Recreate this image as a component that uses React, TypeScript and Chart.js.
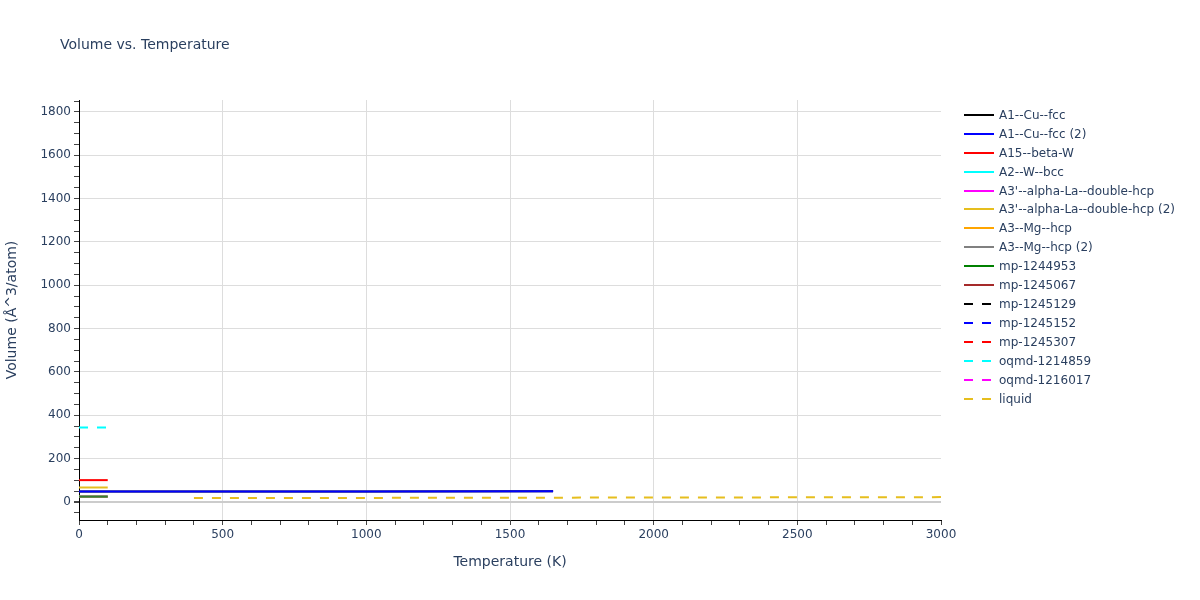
import { useEffect, useRef } from 'react';
import { Chart, registerables } from 'chart.js';

Chart.register(...registerables);

// series names, in legend order
const seriesNames = [
    'A1--Cu--fcc',
    'A1--Cu--fcc (2)',
    'A15--beta-W',
    'A2--W--bcc',
    "A3'--alpha-La--double-hcp",
    "A3'--alpha-La--double-hcp (2)",
    'A3--Mg--hcp',
    'A3--Mg--hcp (2)',
    'mp-1244953',
    'mp-1245067',
    'mp-1245129',
    'mp-1245152',
    'mp-1245307',
    'oqmd-1214859',
    'oqmd-1216017',
    'liquid',
];

const seriesColors = [
    '#000000', '#0000ff', '#ff0000', '#00ffff', '#ff00ff', '#e6be1e', '#ffa500', '#808080',
    '#008000', '#a52a2a', '#000000', '#0000ff', '#ff0000', '#00ffff', '#ff00ff', '#e6be1e',
];

const seriesDashed = [
    false, false, false, false, false, false, false, false,
    false, false, true, true, true, true, true, true,
];

// temperatures (K) and volumes (Å^3/atom)
const cuFccT = [0, 500, 1000, 1650];
const cuFccV = [48, 48.5, 49, 49.5];
const cuFcc2T = [0, 500, 1000, 1650];
const cuFcc2V = [48, 48.5, 49, 49.5];
const betaWT = [0, 100];
const betaWV = [101, 101];
const wBccT = [0, 100];
const wBccV = [25, 25];
const laHcpT = [0, 100];
const laHcpV = [25, 25];
const laHcp2T = [0, 100];
const laHcp2V = [67, 67];
const mgHcpT = [0, 100];
const mgHcpV = [25, 25];
const mgHcp2T = [0, 100];
const mgHcp2V = [25, 25];
const mp1244953T = [0, 100];
const mp1244953V = [25, 25];
const mp1245067T = [0];
const mp1245067V = [1772];
const mp1245129T = [0];
const mp1245129V = [0];
const mp1245152T = [0];
const mp1245152V = [48];
const mp1245307T = [0];
const mp1245307V = [101];
const oqmd1214859T = [0, 100];
const oqmd1214859V = [344, 344];
const oqmd1216017T = [0];
const oqmd1216017V = [25];
const liquidT = [400, 800, 1200, 1600, 2000, 2400, 2800, 3000];
const liquidV = [18, 18.6, 19.3, 20, 20.7, 21.4, 22.2, 22.6];

const seriesT = [cuFccT, cuFcc2T, betaWT, wBccT, laHcpT, laHcp2T, mgHcpT, mgHcp2T,
    mp1244953T, mp1245067T, mp1245129T, mp1245152T, mp1245307T, oqmd1214859T, oqmd1216017T, liquidT];
const seriesV = [cuFccV, cuFcc2V, betaWV, wBccV, laHcpV, laHcp2V, mgHcpV, mgHcp2V,
    mp1244953V, mp1245067V, mp1245129V, mp1245152V, mp1245307V, oqmd1214859V, oqmd1216017V, liquidV];

const textColor = '#2a3f5f';
const font = "'DejaVu Sans', Verdana, sans-serif";

export default function App() {
    const canvasRef = useRef<HTMLCanvasElement>(null);

    useEffect(() => {
        const ctx = canvasRef.current?.getContext('2d');
        if (!ctx) return;

        const datasets = seriesNames.map((name, i) => ({
            label: name,
            data: seriesT[i].map((t, j) => ({ x: t, y: seriesV[i][j] })),
            borderColor: i === 8 ? 'rgba(0,128,0,0.6)' : seriesColors[i],
            backgroundColor: seriesColors[i],
            borderWidth: 2,
            borderDash: seriesDashed[i] ? [9, 9] : [],
            showLine: true,
            pointRadius: 0,
            pointHoverRadius: 0,
            fill: false,
            order: -i,
        }));

        const chart = new Chart(ctx, {
            type: 'scatter',
            data: { datasets },
            options: {
                animation: false,
                responsive: false,
                maintainAspectRatio: false,
                layout: { padding: { left: 0, top: 100, right: 259, bottom: 25 } },
                plugins: { legend: { display: false }, tooltip: { enabled: false } },
                scales: {
                    x: {
                        type: 'linear',
                        min: 0,
                        max: 3000,
                        afterFit: (scale: any) => { scale.height = 55; },
                        border: { color: '#000000', width: 1 },
                        grid: {
                            color: (c: any) => {
                                const v = c.tick ? c.tick.value : 1;
                                return v % 500 === 0 && v < 3000 ? '#dddddd' : 'rgba(0,0,0,0)';
                            },
                            lineWidth: 1,
                            tickColor: '#444444',
                            tickLength: 5,
                        },
                        ticks: {
                            stepSize: 100,
                            autoSkip: false,
                            maxRotation: 0,
                            padding: 3,
                            color: textColor,
                            font: { family: font, size: 12 },
                            callback: (v: any) => (v % 500 === 0 ? String(v) : ''),
                        },
                        title: {
                            display: true,
                            text: 'Temperature (K)',
                            color: textColor,
                            font: { family: font, size: 14 },
                        },
                    },
                    y: {
                        type: 'linear',
                        min: -83,
                        max: 1855,
                        afterFit: (scale: any) => { scale.width = 79; },
                        border: { color: '#000000', width: 1 },
                        grid: {
                            color: (c: any) => {
                                const v = c.tick ? c.tick.value : 1;
                                if (v === 0) return '#cccccc';
                                return v % 200 === 0 ? '#dddddd' : 'rgba(0,0,0,0)';
                            },
                            lineWidth: (c: any) => (c.tick && c.tick.value === 0 ? 2 : 1),
                            tickColor: '#444444',
                            tickLength: 5,
                        },
                        ticks: {
                            stepSize: 50,
                            autoSkip: false,
                            includeBounds: false,
                            padding: 3,
                            color: textColor,
                            font: { family: font, size: 12 },
                            callback: (v: any) => (v % 200 === 0 ? String(v) : ''),
                        },
                        title: {
                            display: true,
                            text: 'Volume (Å^3/atom)',
                            color: textColor,
                            font: { family: font, size: 14 },
                        },
                    },
                },
            },
        });

        return () => {
            chart.destroy();
        };
    }, []);

    return (
        <div style={{ position: 'fixed', left: 0, top: 0, width: 1200, height: 600, background: '#fff', fontFamily: font }}>
            <canvas ref={canvasRef} width={1200} height={600} style={{ position: 'absolute', left: 0, top: 0 }} />
            <div style={{ position: 'absolute', left: 60, top: 36, fontSize: 14, color: textColor, whiteSpace: 'nowrap' }}>
                Volume vs. Temperature
            </div>
            {seriesNames.map((name, i) => (
                <div
                    key={name}
                    style={{
                        position: 'absolute',
                        left: 964,
                        top: 114.7 + i * 18.95 - 9,
                        height: 18,
                        display: 'flex',
                        alignItems: 'center',
                        fontSize: 12,
                        color: textColor,
                        whiteSpace: 'nowrap',
                    }}
                >
                    <svg width={30} height={18} style={{ marginRight: 5 }}>
                        <line
                            x1={0}
                            y1={9}
                            x2={30}
                            y2={9}
                            stroke={seriesColors[i]}
                            strokeWidth={2}
                            strokeDasharray={seriesDashed[i] ? '9,9' : undefined}
                        />
                    </svg>
                    {name}
                </div>
            ))}
        </div>
    );
}
